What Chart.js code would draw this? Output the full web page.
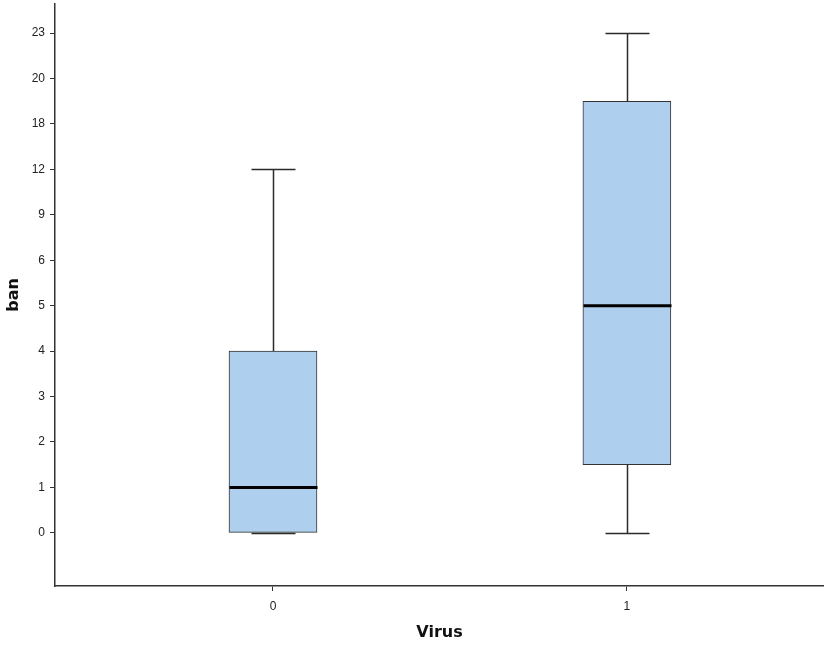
<!DOCTYPE html>
<html>
<head>
<meta charset="utf-8">
<script src="https://cdn.jsdelivr.net/npm/chart.js@4/dist/chart.umd.min.js"></script>
<style>
    html, body { margin: 0; padding: 0; background: #fff; }
    #wrap { width: 824px; height: 646px; }
</style>
</head>
<body>
<div id="wrap"><canvas id="boxChart" width="824" height="646"></canvas></div>
<script>
// SPSS-style axis: tick values are spaced evenly, not by value
const yTicks = [0, 1, 2, 3, 4, 5, 6, 9, 12, 18, 20, 23];
const groups = ['0', '1'];
const mins = [0, 0];
const q1s = [0, 1.5];
const medians = [1, 5];
const q3s = [4, 19];
const maxs = [12, 23];

// value -> position on the evenly spaced axis
function rank(v) {
    for (let i = 0; i < yTicks.length - 1; i++) {
        if (v >= yTicks[i] && v <= yTicks[i + 1]) {
            return i + (v - yTicks[i]) / (yTicks[i + 1] - yTicks[i]);
        }
    }
    return v < yTicks[0] ? 0 : yTicks.length - 1;
}

const boxData = groups.map((g, i) => ({ x: i, y: [rank(q1s[i]), rank(q3s[i])] }));

const whiskerPlugin = {
    id: 'whiskers',
    afterDatasetsDraw(chart) {
        const ctx = chart.ctx;
        const xs = chart.scales.x;
        const ys = chart.scales.y;
        ctx.save();
        for (let i = 0; i < groups.length; i++) {
            let px = Math.round(xs.getPixelForValue(i)) + 0.5;
            let yMin = Math.round(ys.getPixelForValue(rank(mins[i]))) + 0.5;
            let yQ1 = ys.getPixelForValue(rank(q1s[i]));
            let yQ3 = ys.getPixelForValue(rank(q3s[i]));
            let yMax = Math.round(ys.getPixelForValue(rank(maxs[i]))) + 0.5;
            let yMed = ys.getPixelForValue(rank(medians[i]));

            ctx.strokeStyle = '#2b2b2b';
            ctx.lineWidth = 1.5;
            ctx.beginPath();
            ctx.moveTo(px, yQ3);
            ctx.lineTo(px, yMax);
            ctx.moveTo(px - 22, yMax);
            ctx.lineTo(px + 22, yMax);
            ctx.moveTo(px, yQ1);
            ctx.lineTo(px, yMin);
            ctx.moveTo(px - 22, yMin);
            ctx.lineTo(px + 22, yMin);
            ctx.stroke();

            // median
            ctx.strokeStyle = '#000';
            ctx.lineWidth = 3;
            ctx.beginPath();
            ctx.moveTo(px - 44, yMed);
            ctx.lineTo(px + 44, yMed);
            ctx.stroke();
        }
        ctx.restore();
    }
};

function noEdgePadding(scale) {
    scale.paddingTop = 0;
    scale.paddingBottom = 0;
    scale.paddingLeft = 0;
    scale.paddingRight = 0;
}

let boxChart = new Chart(document.getElementById('boxChart').getContext('2d'), {
    type: 'bar',
    data: {
        datasets: [{
            label: 'ban',
            data: boxData,
            backgroundColor: '#aed0ee',
            borderColor: '#333',
            borderWidth: 1,
            borderSkipped: false,
            barThickness: 88
        }]
    },
    options: {
        responsive: false,
        animation: false,
        layout: { padding: { top: 4, right: 0, bottom: 0, left: 0 } },
        plugins: {
            legend: { display: false },
            tooltip: { enabled: false }
        },
        scales: {
            x: {
                type: 'linear',
                offset: false,
                min: -0.616,
                max: 1.557,
                afterBuildTicks: (scale) => {
                    scale.ticks = groups.map((g, i) => ({ value: i }));
                },
                afterFit: (scale) => {
                    scale.height = 60;
                    noEdgePadding(scale);
                },
                ticks: {
                    callback: (v, i) => groups[i],
                    color: '#222',
                    padding: 8,
                    font: { family: 'Liberation Sans', size: 12 }
                },
                grid: { offset: false, drawOnChartArea: false, drawTicks: true, tickLength: 5, color: '#333' },
                border: { color: '#333', width: 1.5 },
                title: {
                    display: true,
                    text: 'Virus',
                    color: '#111',
                    font: { family: 'DejaVu Sans', size: 16, weight: 'bold' }
                }
            },
            y: {
                type: 'linear',
                min: -1.17,
                max: 11.64,
                afterBuildTicks: (scale) => {
                    scale.ticks = yTicks.map((t, i) => ({ value: i }));
                },
                afterFit: (scale) => {
                    scale.width = 55;
                    noEdgePadding(scale);
                },
                ticks: {
                    callback: (v, i) => String(yTicks[i]),
                    color: '#222',
                    padding: 5,
                    font: { family: 'Liberation Sans', size: 12 }
                },
                grid: { drawOnChartArea: false, drawTicks: true, tickLength: 5, color: '#333' },
                border: { color: '#333', width: 1.5 },
                title: {
                    display: true,
                    text: 'ban',
                    color: '#111',
                    font: { family: 'DejaVu Sans', size: 16, weight: 'bold' }
                }
            }
        }
    },
    plugins: [whiskerPlugin]
});
</script>
</body>
</html>
